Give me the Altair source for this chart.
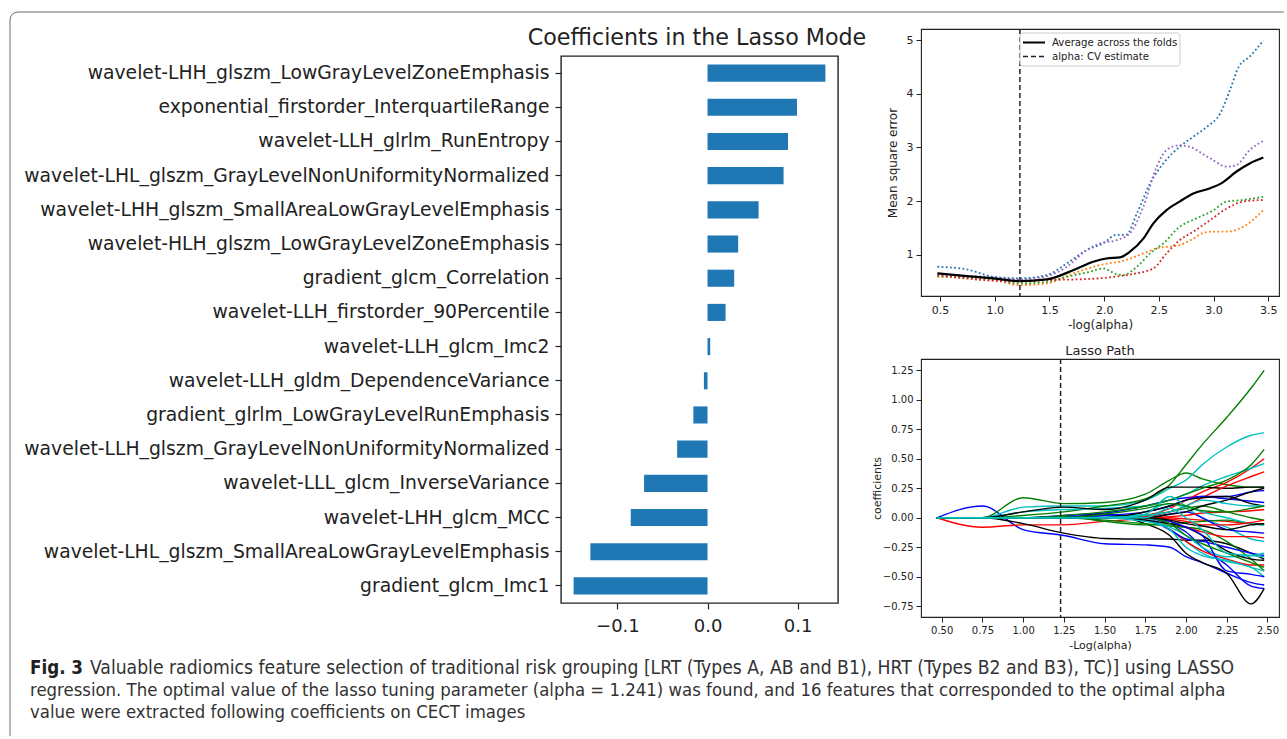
import altair as alt
import pandas as pd

# ---------------- data ----------------
features = [
    "wavelet-LHH_glszm_LowGrayLevelZoneEmphasis",
    "exponential_firstorder_InterquartileRange",
    "wavelet-LLH_glrlm_RunEntropy",
    "wavelet-LHL_glszm_GrayLevelNonUniformityNormalized",
    "wavelet-LHH_glszm_SmallAreaLowGrayLevelEmphasis",
    "wavelet-HLH_glszm_LowGrayLevelZoneEmphasis",
    "gradient_glcm_Correlation",
    "wavelet-LLH_firstorder_90Percentile",
    "wavelet-LLH_glcm_Imc2",
    "wavelet-LLH_gldm_DependenceVariance",
    "gradient_glrlm_LowGrayLevelRunEmphasis",
    "wavelet-LLH_glszm_GrayLevelNonUniformityNormalized",
    "wavelet-LLL_glcm_InverseVariance",
    "wavelet-LHH_glcm_MCC",
    "wavelet-LHL_glszm_SmallAreaLowGrayLevelEmphasis",
    "gradient_glcm_Imc1",
]
coefs = [0.1308, 0.0993, 0.0893, 0.0844, 0.0567, 0.0340, 0.0296, 0.0200,
         0.0030, -0.0040, -0.0157, -0.0337, -0.0704, -0.0852, -0.1300, -0.1486]
bar_title = "Coefficients in the Lasso Mode"

alpha_cv = 1.23

# cross-validation MSE per fold (x = -log(alpha))
fold_names = ["fold 1", "fold 2", "fold 3", "fold 4", "fold 5"]
fold_colors = ["#1f77b4", "#ff7f0e", "#2ca02c", "#d62728", "#9467bd"]
f1_x = [0.476, 0.744, 0.987, 1.231, 1.475, 1.66, 1.84, 1.99, 2.11, 2.20, 2.30, 2.42, 2.54, 2.69, 2.815, 2.94, 3.06, 3.15, 3.23, 3.33, 3.455]
f1_y = [0.776, 0.727, 0.59, 0.56, 0.62, 0.84, 1.087, 1.21, 1.37, 1.37, 1.77, 2.33, 2.70, 3.01, 3.20, 3.385, 3.63, 4.07, 4.50, 4.69, 4.99]
f2_x = [0.476, 0.987, 1.231, 1.475, 1.72, 1.96, 2.20, 2.358, 2.48, 2.69, 2.815, 2.91, 3.0, 3.12, 3.27, 3.455]
f2_y = [0.59, 0.528, 0.435, 0.466, 0.652, 0.807, 0.90, 1.025, 1.118, 1.18, 1.30, 1.41, 1.43, 1.43, 1.52, 1.83]
f3_x = [0.476, 0.987, 1.231, 1.475, 1.66, 1.87, 1.99, 2.11, 2.17, 2.30, 2.42, 2.54, 2.69, 2.845, 3.0, 3.12, 3.27, 3.455]
f3_y = [0.60, 0.54, 0.466, 0.497, 0.59, 0.683, 0.745, 0.64, 0.62, 0.776, 1.025, 1.21, 1.52, 1.677, 1.83, 1.99, 2.02, 2.08]
f4_x = [0.476, 0.987, 1.231, 1.475, 1.75, 2.05, 2.26, 2.45, 2.57, 2.69, 2.815, 2.97, 3.12, 3.27, 3.455]
f4_y = [0.62, 0.515, 0.497, 0.53, 0.54, 0.578, 0.64, 0.745, 1.025, 1.27, 1.43, 1.646, 1.86, 1.99, 2.02]
f5_x = [0.476, 0.987, 1.231, 1.475, 1.66, 1.84, 1.96, 2.11, 2.236, 2.358, 2.48, 2.57, 2.69, 2.78, 2.97, 3.12, 3.21, 3.33, 3.455]
f5_y = [0.64, 0.578, 0.54, 0.60, 0.776, 1.087, 1.21, 1.27, 1.40, 1.894, 2.64, 2.95, 3.04, 3.01, 2.795, 2.64, 2.67, 2.95, 3.12]
avg_x = [0.476, 0.744, 0.987, 1.231, 1.475, 1.72, 1.90, 2.02, 2.145, 2.236, 2.358, 2.45, 2.57, 2.69, 2.815, 2.97, 3.07, 3.21, 3.33, 3.455]
avg_y = [0.652, 0.60, 0.559, 0.509, 0.54, 0.714, 0.87, 0.93, 0.95, 1.056, 1.30, 1.584, 1.83, 1.99, 2.14, 2.24, 2.33, 2.55, 2.70, 2.81]

# lasso path: coefficient of each feature along -log(alpha)
path_x = [0.47, 0.75, 1.0, 1.25, 1.5, 1.75, 1.9, 2.0, 2.1, 2.25, 2.4, 2.48]
path_colors = {"b": "#0000ff", "r": "#ff0000", "g": "#008000", "c": "#00bfbf", "k": "#000000"}
paths = [
    ("b", [0, 0.10, -0.10, -0.15, -0.22, -0.23, -0.25, -0.33, -0.38, -0.47, -0.55, -0.57]),
    ("r", [0, -0.08, -0.06, -0.06, -0.03, -0.01, 0.0, -0.01, -0.02, -0.03, -0.05, -0.05]),
    ("g", [0, 0, 0.17, 0.12, 0.13, 0.20, 0.32, 0.38, 0.33, 0.28, 0.26, 0.26]),
    ("c", [0, 0, 0.09, 0.10, 0.10, 0.15, 0.25, 0.32, 0.45, 0.60, 0.70, 0.72]),
    ("k", [0, 0, -0.05, -0.13, -0.175, -0.18, -0.18, -0.19, -0.19, -0.22, -0.30, -0.35]),
    ("b", [0, 0, 0, 0.02, 0.04, 0.10, 0.15, 0.17, 0.18, 0.16, 0.14, 0.13]),
    ("r", [0, 0, 0, 0, 0, 0.02, 0.08, 0.15, 0.22, 0.30, 0.42, 0.50]),
    ("g", [0, 0, 0.02, 0.05, 0.10, 0.16, 0.28, 0.45, 0.62, 0.85, 1.10, 1.25]),
    ("c", [0, 0, 0.05, 0.07, 0.08, 0.10, 0.15, 0.20, 0.27, 0.35, 0.42, 0.46]),
    ("k", [0, 0, 0.05, 0.09, 0.07, 0.15, 0.26, 0.26, 0.26, 0.25, 0.26, 0.26]),
    ("b", [0, 0, 0, 0, 0.02, 0.0, -0.05, -0.12, -0.25, -0.40, -0.58, -0.60]),
    ("r", [0, 0, 0, 0, 0, 0.01, 0.05, 0.10, 0.17, 0.27, 0.35, 0.39]),
    ("g", [0, 0, 0, 0.02, 0.05, 0.10, 0.15, 0.20, 0.25, 0.32, 0.45, 0.58]),
    ("c", [0, 0, 0, 0, 0.02, 0.0, -0.10, -0.20, -0.30, -0.37, -0.42, -0.50]),
    ("k", [0, 0, 0, 0, 0.03, -0.05, -0.15, -0.30, -0.38, -0.47, -0.73, -0.60]),
    ("b", [0, 0, 0, 0.01, 0.02, 0.05, 0.10, 0.15, 0.18, 0.18, 0.22, 0.23]),
    ("r", [0, 0, 0, 0, 0, -0.02, -0.10, -0.20, -0.28, -0.35, -0.40, -0.40]),
    ("g", [0, 0, 0, 0, -0.02, -0.05, -0.07, -0.08, -0.10, -0.20, -0.35, -0.45]),
    ("c", [0, 0, 0, 0, 0, 0.05, 0.12, 0.08, 0.0, -0.08, -0.18, -0.20]),
    ("k", [0, 0, 0, 0, 0, 0.05, 0.10, 0.15, 0.17, 0.18, 0.12, 0.10]),
    ("b", [0, 0, 0, 0, 0, -0.02, -0.10, -0.18, -0.20, -0.25, -0.30, -0.32]),
    ("r", [0, 0, 0, 0, 0, 0, -0.03, -0.08, -0.12, -0.16, -0.16, -0.17]),
    ("g", [0, 0, 0, 0.01, -0.03, -0.06, -0.05, -0.04, -0.03, -0.02, -0.05, -0.06]),
    ("c", [0, 0, 0, 0, 0, -0.02, -0.08, -0.15, -0.25, -0.33, -0.32, -0.30]),
    ("k", [0, 0, 0, 0, 0, -0.02, -0.05, -0.08, -0.15, -0.28, -0.35, -0.36]),
    ("b", [0, 0, 0, 0, 0, 0, 0.03, 0.05, 0.0, -0.10, -0.12, -0.13]),
    ("r", [0, 0, 0, 0, 0, 0, 0.01, 0.02, 0.04, 0.05, 0.06, 0.07]),
    ("g", [0, 0, 0, 0, 0, 0.02, 0.05, 0.08, 0.10, 0.05, 0.0, -0.02]),
    ("c", [0, 0, 0, 0, 0, 0.03, 0.18, 0.10, 0.05, 0.0, -0.05, -0.06]),
    ("k", [0, 0, 0, 0, 0, 0, 0.03, 0.05, 0.10, 0.15, 0.22, 0.25]),
    ("b", [0, 0, 0, 0, 0, 0, -0.03, -0.08, -0.15, -0.45, -0.48, -0.50]),
    ("r", [0, 0, 0, 0, 0, 0, -0.01, -0.03, -0.06, -0.06, -0.04, -0.02]),
    ("g", [0, 0, 0, 0, 0, 0, -0.05, -0.15, -0.22, -0.30, -0.38, -0.42]),
    ("c", [0, 0, 0, 0, 0, 0.02, 0.05, 0.10, 0.15, 0.12, 0.10, 0.10]),
    ("k", [0, 0, 0, 0, 0, 0, -0.02, -0.05, -0.07, -0.10, -0.06, -0.05]),
    ("g", [0, 0, 0, 0, 0.03, 0.08, 0.12, 0.10, 0.06, 0.05, 0.08, 0.10]),
    ("c", [0, 0, 0, 0, 0, -0.03, -0.10, -0.25, -0.32, -0.36, -0.42, -0.45]),
    ("c", [0, 0, 0, 0, 0, 0, 0.08, 0.0, -0.10, -0.30, -0.32, -0.33]),
]

caption_lines = [
    "Valuable radiomics feature selection of traditional risk grouping [LRT (Types A, AB and B1), HRT (Types B2 and B3), TC)] using LASSO",
    "regression. The optimal value of the lasso tuning parameter (alpha = 1.241) was found, and 16 features that corresponded to the optimal alpha",
    "value were extracted following coefficients on CECT images",
]
fig_label = "Fig. 3"

# ---------------- styling ----------------
FONT = "DejaVu Sans"
CAP_FONT = "Liberation Sans Narrow, DejaVu Sans Condensed, sans-serif"
INK = "#222222"

# page-space anchor of the decoration cell (top-left of the left column)
ORIGIN_X, ORIGIN_Y = 561, 29


def rel(px, py):
    return px - ORIGIN_X, py - ORIGIN_Y


PX = dict(scale=None, axis=None)

# ---------------- decoration: card border, panel title, caption ----------------
border_pts = [(10, 736), (10, 20), (10.6, 16.9), (12.3, 14.3), (14.9, 12.6), (18, 12), (1284, 12)]
border_df = pd.DataFrame(
    [{"i": i, "x": rel(x, y)[0], "y": rel(x, y)[1]} for i, (x, y) in enumerate(border_pts)]
)
border = alt.Chart(border_df).mark_line(
    color="#6b6b6b", strokeWidth=1, strokeJoin="round", strokeCap="butt"
).encode(x=alt.X("x:Q", **PX), y=alt.Y("y:Q", **PX), order="i:Q")

title_df = pd.DataFrame([{"x": rel(697, 45)[0], "y": rel(697, 45)[1], "t": bar_title}])
title_mark = alt.Chart(title_df).mark_text(
    font=FONT, fontSize=22.2, align="center", baseline="alphabetic", color=INK
).encode(x=alt.X("x:Q", **PX), y=alt.Y("y:Q", **PX), text="t:N")

cap_bold_df = pd.DataFrame([{"x": rel(30, 674)[0], "y": rel(30, 674)[1], "t": fig_label}])
cap_bold = alt.Chart(cap_bold_df).mark_text(
    font=CAP_FONT, fontSize=18.6, fontWeight="bold", align="left", baseline="alphabetic", color="#231f20"
).encode(x=alt.X("x:Q", **PX), y=alt.Y("y:Q", **PX), text="t:N")

cap_rows = [
    {"x": rel(90, 674)[0], "y": rel(90, 674)[1], "t": caption_lines[0], "fs": 19.18},
    {"x": rel(30, 696)[0], "y": rel(30, 696)[1], "t": caption_lines[1], "fs": 18.4},
    {"x": rel(30, 718)[0], "y": rel(30, 718)[1], "t": caption_lines[2], "fs": 18.4},
]
cap_text = alt.Chart(pd.DataFrame(cap_rows)).mark_text(
    font=CAP_FONT, align="left", baseline="alphabetic", color="#333333"
).encode(
    x=alt.X("x:Q", **PX),
    y=alt.Y("y:Q", **PX),
    size=alt.Size("fs:Q", scale=None, legend=None),
    text="t:N",
)

deco = alt.layer(border, title_mark, cap_bold, cap_text).properties(
    width=277, height=27, view=alt.ViewBackground(strokeOpacity=0)
)

# ---------------- left: coefficient bar chart ----------------
bar_df = pd.DataFrame({"feature": features, "coef": coefs})
bars = alt.Chart(bar_df).mark_bar(color="#1f77b4").encode(
    y=alt.Y(
        "feature:N",
        sort=features,
        scale=alt.Scale(paddingInner=0.5, paddingOuter=0.25),
        axis=alt.Axis(
            title=None, labelFont=FONT, labelFontSize=18.75, labelColor=INK, labelLimit=700,
            tickSize=6, tickColor=INK, tickWidth=1.2, labelPadding=6, domain=False,
        ),
    ),
    x=alt.X(
        "coef:Q",
        scale=alt.Scale(domain=[-0.1626, 0.1448], nice=False, zero=False),
        axis=alt.Axis(
            title=None, values=[-0.1, 0.0, 0.1], format=".1f", labelFont=FONT, labelFontSize=18,
            labelColor=INK, tickSize=6, tickColor=INK, tickWidth=1.2, labelPadding=8, domain=False,
            grid=False,
        ),
    ),
).properties(
    width=277, height=547,
    view=alt.ViewBackground(stroke=INK, strokeWidth=1.4),
)

# ---------------- right top: CV mean square error ----------------
mse_rows = []
for name, hexcol, xs, ys in zip(fold_names, fold_colors, [f1_x, f2_x, f3_x, f4_x, f5_x],
                                [f1_y, f2_y, f3_y, f4_y, f5_y]):
    for xv, yv in zip(xs, ys):
        mse_rows.append({"fold": name, "hex": hexcol, "x": xv, "mse": yv})
mse_df = pd.DataFrame(mse_rows)
avg_df = pd.DataFrame({"x": avg_x, "mse": avg_y})

mse_x = alt.X(
    "x:Q",
    scale=alt.Scale(domain=[0.326, 3.598], nice=False, zero=False),
    axis=alt.Axis(
        title="-log(alpha)", values=[0.5, 1.0, 1.5, 2.0, 2.5, 3.0, 3.5], format=".1f",
        labelFont=FONT, labelFontSize=11, labelColor=INK, titleFont=FONT, titleFontSize=12,
        titleFontWeight="normal", titleColor=INK, tickSize=5, tickColor=INK, labelPadding=3,
        titlePadding=4, domain=False, grid=False,
    ),
)
mse_y = alt.Y(
    "mse:Q",
    scale=alt.Scale(domain=[0.231, 5.205], nice=False, zero=False),
    axis=alt.Axis(
        title="Mean square error", values=[1, 2, 3, 4, 5], format="d",
        labelFont=FONT, labelFontSize=11, labelColor=INK, titleFont=FONT, titleFontSize=12,
        titleFontWeight="normal", titleColor=INK, tickSize=5, tickColor=INK, labelPadding=3,
        titlePadding=7, domain=False, grid=False,
    ),
)

fold_lines = alt.Chart(mse_df).mark_line(
    strokeWidth=1.8, strokeDash=[1.8, 2.4], interpolate="monotone"
).encode(
    x=mse_x, y=mse_y,
    detail="fold:N",
    color=alt.Color("hex:N", scale=None, legend=None),
)
avg_line = alt.Chart(avg_df).mark_line(color="black", strokeWidth=2.2, interpolate="monotone").encode(
    x=mse_x, y=mse_y
)
cv_rule_df = pd.DataFrame({"x": [alpha_cv]})
cv_rule = alt.Chart(cv_rule_df).mark_rule(color=INK, strokeWidth=1.5, strokeDash=[5, 3]).encode(
    x=alt.X("x:Q")
)

one = alt.Data(values=[{}])
leg_box = alt.Chart(one).mark_rect(
    fill="white", fillOpacity=0.85, stroke="#cccccc", strokeWidth=1, cornerRadius=3
).encode(x=alt.value(99), x2=alt.value(259), y=alt.value(4), y2=alt.value(37))
leg_solid = alt.Chart(one).mark_rule(color="black", strokeWidth=2).encode(
    x=alt.value(102), x2=alt.value(124), y=alt.value(13.5)
)
leg_dash = alt.Chart(one).mark_rule(color=INK, strokeWidth=1.5, strokeDash=[5, 3]).encode(
    x=alt.value(102), x2=alt.value(124), y=alt.value(27.5)
)
leg_t1 = alt.Chart(one).mark_text(font=FONT, fontSize=10.2, align="left", baseline="middle", color=INK).encode(
    x=alt.value(131), y=alt.value(13.5), text=alt.value("Average across the folds")
)
leg_t2 = alt.Chart(one).mark_text(font=FONT, fontSize=10.2, align="left", baseline="middle", color=INK).encode(
    x=alt.value(131), y=alt.value(27.5), text=alt.value("alpha: CV estimate")
)

mse_chart = alt.layer(
    fold_lines, avg_line, cv_rule, leg_box, leg_solid, leg_dash, leg_t1, leg_t2
).properties(width=358, height=267, view=alt.ViewBackground(stroke=INK, strokeWidth=1.1))

# ---------------- right bottom: lasso path ----------------
path_rows = []
for pid, (col, ys) in enumerate(paths):
    for xv, yv in zip(path_x, ys):
        path_rows.append({"pid": pid, "hex": path_colors[col], "x": xv, "coef": yv})
path_df = pd.DataFrame(path_rows)

lp_x = alt.X(
    "x:Q",
    scale=alt.Scale(domain=[0.373, 2.571], nice=False, zero=False),
    axis=alt.Axis(
        title="-Log(alpha)", values=[0.5, 0.75, 1.0, 1.25, 1.5, 1.75, 2.0, 2.25, 2.5], format=".2f",
        labelFont=FONT, labelFontSize=10, labelColor=INK, titleFont=FONT, titleFontSize=11,
        titleFontWeight="normal", titleColor=INK, tickSize=5, tickColor=INK, labelPadding=3,
        titlePadding=4, domain=False, grid=False,
    ),
)
lp_y = alt.Y(
    "coef:Q",
    scale=alt.Scale(domain=[-0.841, 1.346], nice=False, zero=False),
    axis=alt.Axis(
        title="coefficients", values=[-0.75, -0.5, -0.25, 0.0, 0.25, 0.5, 0.75, 1.0, 1.25], format=".2f",
        labelFont=FONT, labelFontSize=10, labelColor=INK, titleFont=FONT, titleFontSize=11,
        titleFontWeight="normal", titleColor=INK, tickSize=5, tickColor=INK, labelPadding=3,
        titlePadding=0, domain=False, grid=False,
    ),
)
lp_lines = alt.Chart(path_df).mark_line(strokeWidth=1.4, interpolate="monotone").encode(
    x=lp_x, y=lp_y,
    detail="pid:N",
    color=alt.Color("hex:N", scale=None, legend=None),
)
lp_rule = alt.Chart(cv_rule_df).mark_rule(color=INK, strokeWidth=1.5, strokeDash=[5, 3]).encode(
    x=alt.X("x:Q")
)
lp_title = alt.Chart(one).mark_text(
    font=FONT, fontSize=13, align="center", baseline="alphabetic", color=INK
).encode(x=alt.value(179), y=alt.value(-4), text=alt.value("Lasso Path"))

lasso_chart = alt.layer(lp_lines, lp_rule, lp_title).properties(
    width=358, height=258,
    view=alt.ViewBackground(stroke=INK, strokeWidth=1.1),
)

# ---------------- assemble ----------------
left_col = alt.vconcat(deco, bars, spacing=0, bounds="flush")
right_col = alt.vconcat(mse_chart, lasso_chart, spacing=63, bounds="flush")
# the nested left column contributes no width to the flush layout, so the
# spacing is the full offset from the bar panel to the right-hand panels
chart = alt.hconcat(left_col, right_col, spacing=360, bounds="flush").properties(
    padding={"left": 9, "top": 11, "right": 0, "bottom": 0},
    background="white",
)

chart.save("out.html", embed_options={"renderer": "svg", "actions": False})
